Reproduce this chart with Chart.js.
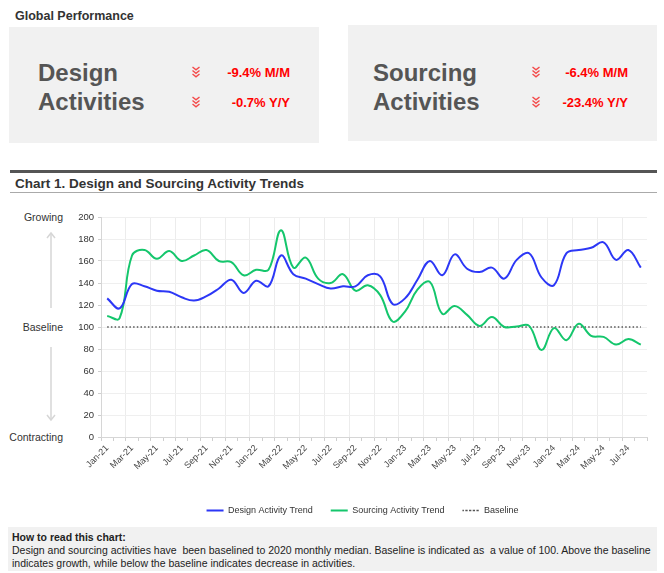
<!DOCTYPE html>
<html>
<head>
<meta charset="utf-8">
<title>Design and Sourcing Activity Trends</title>
<script src="https://cdn.jsdelivr.net/npm/chart.js@4.4.1/dist/chart.umd.min.js"></script>
<style>
    body {
        margin: 0;
        width: 664px;
        height: 573px;
        position: relative;
        overflow: hidden;
        background: #fff;
        font-family: "Liberation Sans", Arial, sans-serif;
        color: #333;
    }
    .abs { position: absolute; }
    .kpi-box { background: #f1f1f1; }
    .kpi-name { font-size: 24px; font-weight: 700; color: #555; line-height: 29px; }
    .kpi-val { font-size: 13px; font-weight: 700; color: #ff0000; text-align: right; width: 90px; line-height: 16px; }
    .side-lbl { font-size: 10.5px; color: #333; text-align: right; width: 70px; line-height: 12px; }
</style>
</head>
<body>

<div class="abs" style="left:15px;top:9px;font-size:12.5px;font-weight:700;color:#333">Global Performance</div>

<!-- KPI блоки -->
<div class="abs kpi-box" style="left:9px;top:27px;width:310px;height:116px"></div>
<div class="abs kpi-name" style="left:38px;top:58px">Design</div>
<div class="abs kpi-name" style="left:38px;top:87px">Activities</div>
<div class="abs kpi-val" style="left:200px;top:65px">-9.4% M/M</div>
<div class="abs kpi-val" style="left:200px;top:95px">-0.7% Y/Y</div>

<div class="abs kpi-box" style="left:348px;top:25px;width:309px;height:116px"></div>
<div class="abs kpi-name" style="left:373px;top:58px">Sourcing</div>
<div class="abs kpi-name" style="left:373px;top:87px">Activities</div>
<div class="abs kpi-val" style="left:538px;top:65px">-6.4% M/M</div>
<div class="abs kpi-val" style="left:538px;top:95px">-23.4% Y/Y</div>

<svg class="abs" style="left:0;top:0" width="664" height="150">
    <defs>
        <g id="chev" fill="none" stroke="#f34a4a" stroke-width="1.4">
            <polyline points="0,0 3.5,2.8 7,0"/>
            <polyline points="0,3.5 3.5,6.3 7,3.5"/>
            <polyline points="0,7 3.5,9.8 7,7"/>
        </g>
    </defs>
    <use href="#chev" x="192.5" y="67"/>
    <use href="#chev" x="192.5" y="97"/>
    <use href="#chev" x="532.5" y="67"/>
    <use href="#chev" x="532.5" y="97"/>
</svg>

<!-- Заголовок графіка -->
<div class="abs" style="left:10px;top:170px;width:647px;height:2.5px;background:#555"></div>
<div class="abs" style="left:15px;top:176px;font-size:13.5px;font-weight:700;color:#333">Chart 1. Design and Sourcing Activity Trends</div>
<div class="abs" style="left:10px;top:191.5px;width:647px;height:1.5px;background:#aaa"></div>

<!-- Підписи зліва -->
<div class="abs side-lbl" style="left:-7px;top:211px">Growing</div>
<div class="abs side-lbl" style="left:-7px;top:321px">Baseline</div>
<div class="abs side-lbl" style="left:-7px;top:431px">Contracting</div>
<svg class="abs" style="left:40px;top:225px" width="22" height="200">
    <g fill="none" stroke="#d6d6d6" stroke-width="1.5">
        <line x1="11" y1="8" x2="11" y2="83"/>
        <polyline points="7,13 11,8 15,13"/>
        <line x1="11" y1="122" x2="11" y2="195"/>
        <polyline points="7,190 11,195 15,190"/>
    </g>
</svg>

<canvas id="trend" class="abs" style="left:60px;top:200px" width="604" height="325"></canvas>

<!-- Пояснення -->
<div class="abs" style="left:8px;top:527px;width:649px;height:44px;background:#f1f1f1"></div>
<div class="abs" style="left:12px;top:531px;font-size:10.5px;line-height:13px;color:#222;white-space:pre"><b>How to read this chart:</b>
Design and sourcing activities have  been baselined to 2020 monthly median. Baseline is indicated as  a value of 100. Above the baseline
indicates growth, while below the baseline indicates decrease in activities.</div>

<script>
// Місяці (Jan-21 .. Aug-24)
const months = [
    'Jan-21', 'Feb-21', 'Mar-21', 'Apr-21', 'May-21', 'Jun-21', 'Jul-21', 'Aug-21', 'Sep-21', 'Oct-21', 'Nov-21', 'Dec-21',
    'Jan-22', 'Feb-22', 'Mar-22', 'Apr-22', 'May-22', 'Jun-22', 'Jul-22', 'Aug-22', 'Sep-22', 'Oct-22', 'Nov-22', 'Dec-22',
    'Jan-23', 'Feb-23', 'Mar-23', 'Apr-23', 'May-23', 'Jun-23', 'Jul-23', 'Aug-23', 'Sep-23', 'Oct-23', 'Nov-23', 'Dec-23',
    'Jan-24', 'Feb-24', 'Mar-24', 'Apr-24', 'May-24', 'Jun-24', 'Jul-24', 'Aug-24'
];

const designTrend = [
    126, 117, 139, 137, 133, 132, 127, 124, 128, 135, 143, 131,
    142, 137, 165, 148, 144, 139, 135, 137, 137, 147, 146, 121,
    126, 143, 160, 147, 166, 153, 150, 154, 144, 161, 167, 145,
    138, 167, 170, 172, 177, 161, 170, 154
];

const sourcingTrend = [
    110, 108, 165, 170, 162, 169, 160, 165, 170, 160, 159, 147,
    152, 152, 188, 154, 163, 144, 140, 148, 133, 138, 129, 105,
    114, 134, 141, 112, 119, 111, 101, 109, 100, 100.5, 101, 79,
    99, 88, 103, 92, 91, 84, 89, 84
];

const baselineValue = 100;
const baseline = months.map(() => baselineValue);

const yTicks = {min: 0, max: 200, step: 20};

new Chart(document.getElementById('trend'), {
    type: 'line',
    data: {
        labels: months,
        datasets: [
            {
                label: 'Design Activity Trend',
                data: designTrend,
                borderColor: '#2c37f6',
                backgroundColor: '#2c37f6',
                borderWidth: 2,
                tension: 0.4,
                pointRadius: 0,
                fill: false,
            },
            {
                label: 'Sourcing Activity Trend',
                data: sourcingTrend,
                borderColor: '#14c66c',
                backgroundColor: '#14c66c',
                borderWidth: 2,
                tension: 0.4,
                pointRadius: 0,
                fill: false,
            },
            {
                label: 'Baseline',
                data: baseline,
                borderColor: '#555',
                backgroundColor: 'rgba(0,0,0,0)',
                borderWidth: 1.3,
                borderDash: [1.5, 2.2],
                pointRadius: 0,
                fill: false,
            }
        ]
    },
    options: {
        responsive: false,
        animation: false,
        layout: {padding: {top: 17, right: 17, left: 18, bottom: 0}},
        plugins: {
            tooltip: {enabled: false},
            legend: {
                position: 'bottom',
                labels: {
                    boxWidth: 17,
                    boxHeight: 0,
                    padding: 18,
                    color: '#333',
                    font: {family: '"Liberation Sans", Arial, sans-serif', size: 9}
                }
            }
        },
        scales: {
            x: {
                offset: true,
                grid: {
                    offset: true,
                    color: c => c.index % 2 === 0 ? '#ececec' : 'rgba(0,0,0,0)',
                    tickColor: '#cfcfcf',
                    tickLength: 4,
                },
                border: {color: '#d6d6d6'},
                ticks: {
                    autoSkip: false,
                    maxRotation: 45,
                    minRotation: 45,
                    padding: 2,
                    color: '#444',
                    font: {family: '"Liberation Sans", Arial, sans-serif', size: 9},
                    callback: (v, i) => i % 2 === 0 ? months[i] : '',
                },
                afterFit: s => { s.height = 51; }
            },
            y: {
                min: yTicks.min,
                max: yTicks.max,
                grid: {color: '#efefef', tickColor: '#cfcfcf', tickLength: 3},
                border: {color: '#d6d6d6'},
                ticks: {
                    stepSize: yTicks.step,
                    padding: 4,
                    color: '#333',
                    font: {family: '"Liberation Sans", Arial, sans-serif', size: 9.5}
                },
                afterFit: s => { s.width = 23; }
            }
        }
    }
});
</script>
</body>
</html>
